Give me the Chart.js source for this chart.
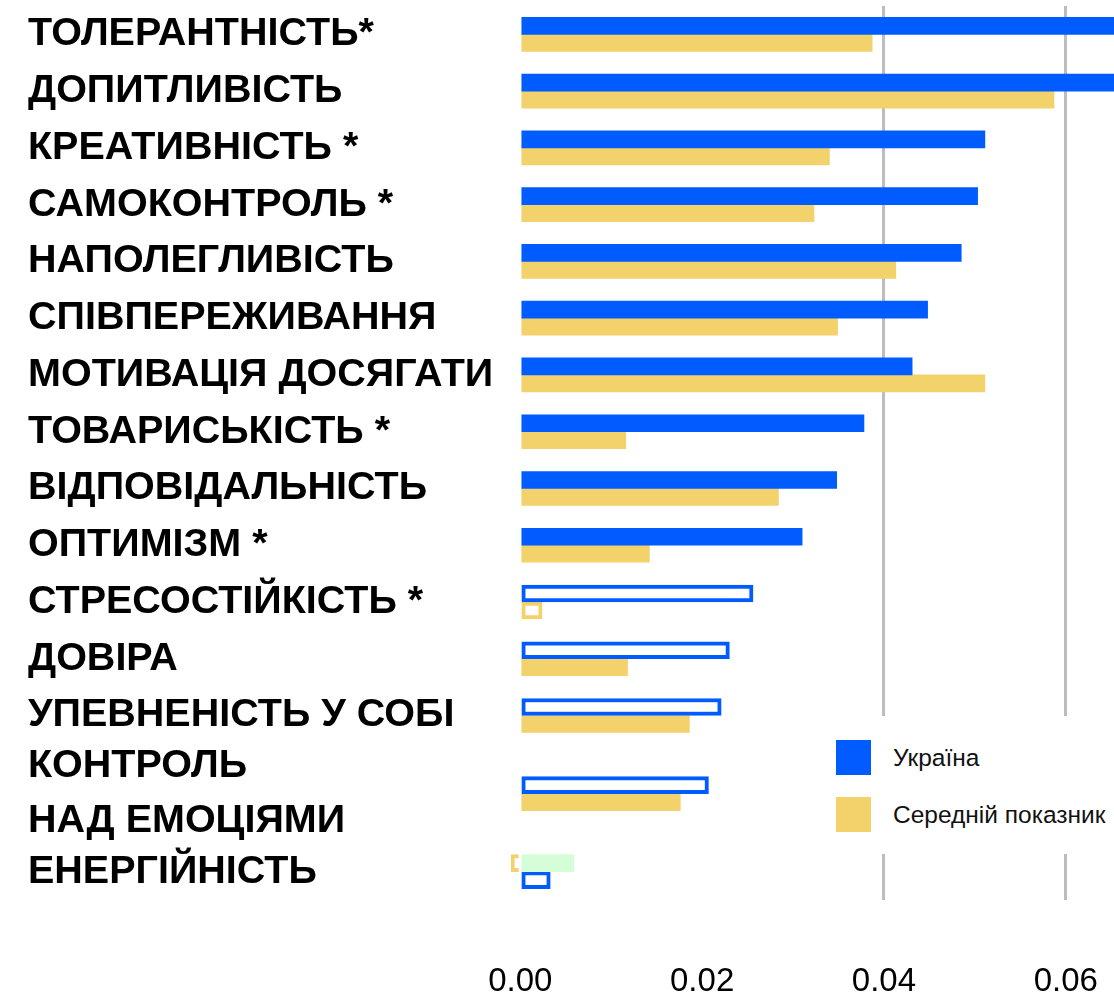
<!DOCTYPE html>
<html>
<head>
<meta charset="utf-8">
<title>Риси характеру</title>
<script src="https://cdn.jsdelivr.net/npm/chart.js@4.4.0/dist/chart.umd.min.js"></script>
<style>
  html, body { margin: 0; padding: 0; background: #fff; }
  #wrap { position: relative; width: 1114px; height: 997px; }
  #legend {
    position: absolute; left: 826px; top: 716px; width: 288px; height: 138px;
    background: #fff; font-family: "Liberation Sans", Arial, sans-serif; font-size: 24.5px; color: #111;
  }
  .item { position: absolute; left: 10px; height: 35px; line-height: 35px; }
  .item .box { position: absolute; left: 0; top: 0; width: 35px; height: 35px; }
  .item .txt { position: absolute; left: 57px; top: 0; white-space: nowrap; }
</style>
</head>
<body>
<div id="wrap">
  <canvas id="chart" width="1114" height="997"></canvas>
  <div id="legend">
    <div class="item" style="top:24px"><span class="box" style="background:#005cff"></span><span class="txt">Україна</span></div>
    <div class="item" style="top:81px"><span class="box" style="background:#f3d16b"></span><span class="txt">Середній показник</span></div>
  </div>
</div>
<script>
// categories, top to bottom
var categories = [
  'ТОЛЕРАНТНІСТЬ*', 'ДОПИТЛИВІСТЬ', 'КРЕАТИВНІСТЬ *', 'САМОКОНТРОЛЬ *',
  'НАПОЛЕГЛИВІСТЬ', 'СПІВПЕРЕЖИВАННЯ', 'МОТИВАЦІЯ ДОСЯГАТИ', 'ТОВАРИСЬКІСТЬ *',
  'ВІДПОВІДАЛЬНІСТЬ', 'ОПТИМІЗМ *', 'СТРЕСОСТІЙКІСТЬ *', 'ДОВІРА',
  'УПЕВНЕНІСТЬ У СОБІ', ['КОНТРОЛЬ', 'НАД ЕМОЦІЯМИ'], 'ЕНЕРГІЙНІСТЬ'
];

// Україна
var ukraine = [0.0700, 0.0680, 0.0511, 0.0503, 0.0485, 0.0448, 0.0431, 0.0378,
               0.0348, 0.0310, 0.0256, 0.0230, 0.0221, 0.0207, 0.0033];

// Середній показник
var average = [0.0387, 0.0587, 0.0340, 0.0323, 0.0413, 0.0349, 0.0511, 0.0116,
               0.0284, 0.0142, 0.0024, 0.0118, 0.0186, 0.0176, -0.0010];

// light green bar next to the last average bar
var extra = [null, null, null, null, null, null, null, null,
             null, null, null, null, null, null, 0.0059];

var tickValues = [0, 0.02, 0.04, 0.06];
var gridAt = [0.04, 0.06];

var BLUE = '#005cff', YELLOW = '#f3d16b', GREEN = '#d5fdd8';

// rows where the bars are outlined, and the row where the order is swapped
var uaOutlined = [10, 11, 12, 13, 14];
var avgOutlined = [10, 14];
var swapped = [14];

// category axis where a label on two lines gets a taller row
class RowScale extends Chart.CategoryScale {
  rowWeights() {
    return this.getLabels().map(function(l) {
      return Array.isArray(l) ? 1 + (l.length - 1) * 0.75 : 1;
    });
  }
  getPixelForValue(value) {
    if (typeof value !== 'number') value = this.parse(value);
    if (value === null || isNaN(value)) return NaN;
    var w = this.rowWeights();
    var total = 0;
    for (var k = 0; k < w.length; k++) total += w[k];
    var i = Math.min(Math.max(Math.round(value), 0), w.length - 1);
    var before = 0;
    for (var j = 0; j < i; j++) before += w[j];
    var pos = before + w[i] / 2 + (value - i) * w[i];
    return this.getPixelForDecimal(pos / total);
  }
}
RowScale.id = 'rowCategory';
RowScale.defaults = Chart.CategoryScale.defaults;
Chart.register(RowScale);

function serieAt(slot, i) {
  var isSwap = swapped.indexOf(i) >= 0;
  if (slot == 'top') return isSwap ? 'avg' : 'ua';
  return isSwap ? 'ua' : 'avg';
}
function valueOf(s, i) { return s == 'ua' ? ukraine[i] : average[i]; }
function colorOf(s) { return s == 'ua' ? BLUE : YELLOW; }
function outlined(s, i) { return (s == 'ua' ? uaOutlined : avgOutlined).indexOf(i) >= 0; }

function makeSet(slot, label) {
  var idx = categories.map(function(c, i) { return i; });
  return {
    label: label,
    stack: slot,
    data: idx.map(function(i) { return valueOf(serieAt(slot, i), i); }),
    backgroundColor: idx.map(function(i) { var s = serieAt(slot, i); return outlined(s, i) ? '#ffffff' : colorOf(s); }),
    borderColor: idx.map(function(i) { return colorOf(serieAt(slot, i)); }),
    borderWidth: idx.map(function(i) { return outlined(serieAt(slot, i), i) ? 4 : 0; }),
    borderSkipped: function(ctx) { return ctx.raw < 0 ? 'start' : false; },
    barThickness: 17
  };
}

var ctx = document.getElementById('chart');

var chart = new Chart(ctx, {
  type: 'bar',
  data: {
    labels: categories,
    datasets: [
      makeSet('top', 'Україна'),
      { label: '', stack: 'top', data: extra, backgroundColor: GREEN, borderWidth: 0, barThickness: 17 },
      makeSet('bottom', 'Середній показник')
    ]
  },
  options: {
    responsive: false,
    animation: false,
    indexAxis: 'y',
    layout: { padding: { left: 28, top: 6, right: 0, bottom: 0 } },
    plugins: {
      legend: { display: false },
      tooltip: { enabled: false }
    },
    scales: {
      x: {
        stacked: true,
        min: -0.0019,
        max: 0.0653,
        border: { display: false },
        grid: {
          drawTicks: false,
          lineWidth: 3,
          color: function(c) {
            return (c.tick && gridAt.indexOf(c.tick.value) >= 0) ? '#bdbdbd' : 'rgba(0,0,0,0)';
          }
        },
        afterBuildTicks: function(axis) {
          axis.ticks = tickValues.map(function(v) { return { value: v }; });
        },
        afterFit: function(scale) {
          scale.height = 97;
          scale.paddingLeft = 0;
          scale.paddingRight = 0;
        },
        ticks: {
          padding: 62,
          color: '#000',
          font: { family: '"Liberation Sans", Arial, sans-serif', size: 33 },
          callback: function(v) { return Number(v).toFixed(2); }
        }
      },
      y: {
        type: 'rowCategory',
        offset: true,
        border: { display: false },
        grid: { display: false, drawTicks: false },
        afterFit: function(scale) {
          scale.width = 475;
          scale.paddingTop = 0;
          scale.paddingBottom = 0;
        },
        ticks: {
          autoSkip: false,
          crossAlign: 'far',
          padding: 0,
          color: '#000',
          font: { family: '"Liberation Sans", Arial, sans-serif', size: 39.5, weight: 'bold', lineHeight: 1.4 }
        }
      }
    }
  }
});
</script>
</body>
</html>
